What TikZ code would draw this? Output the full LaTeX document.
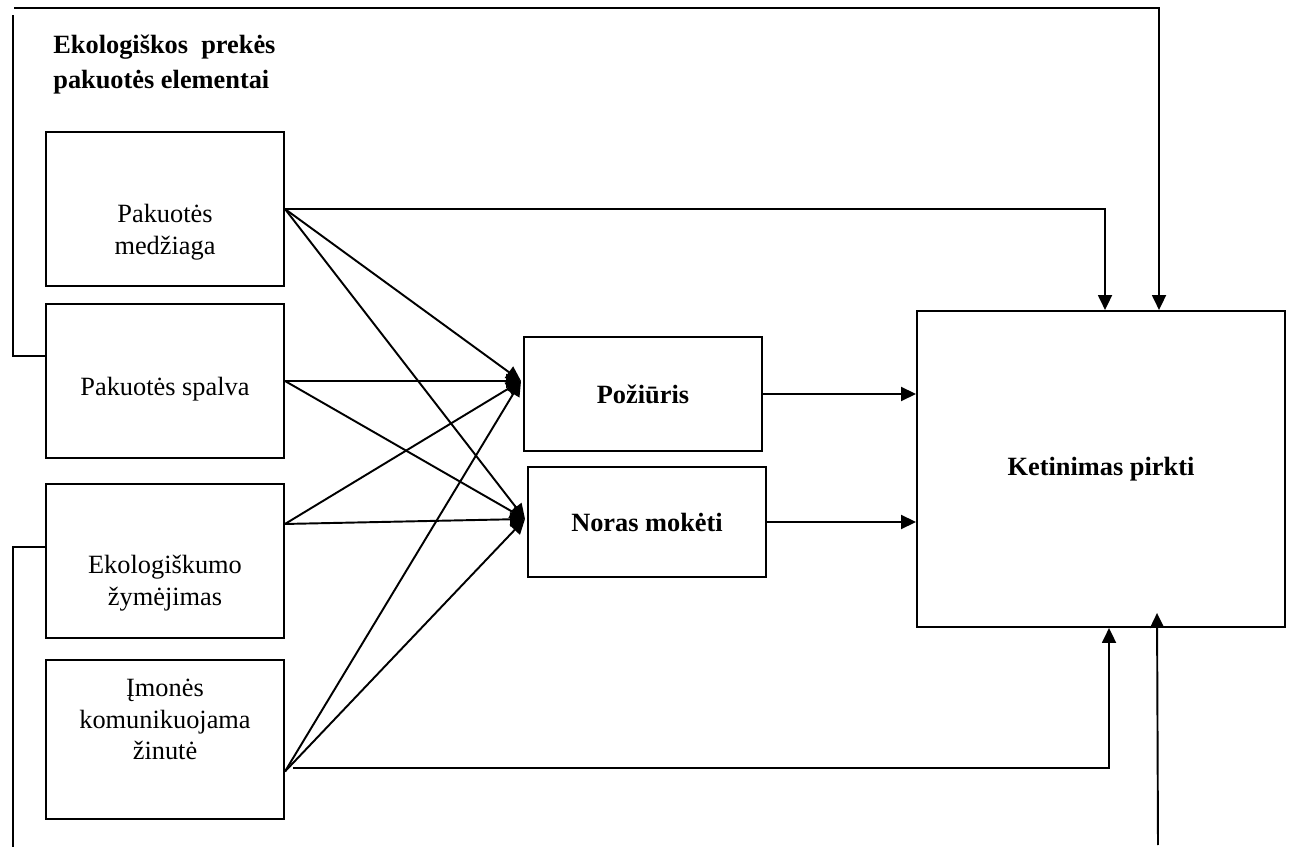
\documentclass[tikz,border=0pt]{standalone}
\usepackage{fontspec}
\setmainfont{Liberation Serif}
\usetikzlibrary{arrows.meta,positioning,calc}
\tikzset{
  blk/.style={draw=black, line width=1.15pt, minimum width=4.76cm, inner sep=0pt},
  elbox/.style={blk, minimum height=3.08cm},
  midbox/.style={blk, font=\fontsize{15}{18}\selectfont\bfseries},
  goalbox/.style={blk, minimum width=7.36cm, minimum height=6.32cm,
    font=\fontsize{15}{18}\selectfont\bfseries},
  txt/.style={align=center, inner sep=0pt, font=\fontsize{15}{17.9}\selectfont},
  hdr/.style={align=left, inner sep=0pt, anchor=north west,
    font=\fontsize{15}{19.8}\selectfont\bfseries},
  arr/.style={-{Triangle[length=3mm,width=2.8mm]}, draw=black, line width=1.1pt},
  wire/.style={draw=black, line width=1.1pt}
}
\begin{document}
\begin{tikzpicture}[x=0.02cm, y=-0.02cm, node distance=0.32cm]
  \useasboundingbox (0,0) rectangle (1292,847);
  \node[hdr] (head) at (53,35) {Ekologiškos\ \ prekės\\pakuotės elementai};
  % packaging elements
  \node[elbox] (medz) at (165,209) {};
  \node[elbox, below=of medz] (spal) {};
  \node[elbox, below=0.48cm of spal] (ekol) {};
  \node[elbox, below=0.4cm of ekol, minimum height=3.18cm] (imon) {};
  \node[txt] (medzt) at ($(medz)+(0,23)$) {Pakuotės\\medžiaga};
  \node[txt] (spalt) at ($(spal)+(0,8)$) {Pakuotės spalva};
  \node[txt] (ekolt) at ($(ekol)+(0,22)$) {Ekologiškumo\\žymėjimas};
  \node[txt] (imont) at ($(imon)+(0,-20)$) {Įmonės\\komunikuojama\\žinutė};
  % mediators and outcome
  \node[midbox, minimum height=2.28cm] (poz) at (643,394) {Požiūris};
  \node[midbox, minimum height=2.2cm] (nor) at (647,522) {Noras mokėti};
  \node[goalbox] (ket) at (1101,469) {Ketinimas pirkti};
  \coordinate (tP) at ($(poz.west)+(-2,-13)$);
  \coordinate (tN) at ($(nor.west)+(-2,-3)$);
  \coordinate (s3) at ($(ekol.east)+(0,-37)$);
  \coordinate (s4) at ($(imon.east)+(0,32)$);
  \coordinate (fbA) at (13,15);
  \coordinate (fbB) at (14,8);
  \coordinate (fbC) at (1158,845);
  \coordinate (fbD) at (13,847);
  \draw[arr] (medz.east) -- (tP);
  \draw[arr] (medz.east) -- (tN);
  \draw[arr] (spal.east) -- (tP);
  \draw[arr] (spal.east) -- (tN);
  \draw[arr] (s3) -- (tP);
  \draw[arr] (s3) -- (tN);
  \draw[arr] (s4) -- (tP);
  \draw[arr] (s4) -- (tN);
  \draw[arr] (poz.east) -- (poz.east -| ket.west);
  \draw[arr] (nor.east) -- (nor.east -| ket.west);
  % direct paths
  \draw[arr] (medz.east) -| ($(ket.north west)+(189,0)$);
  \draw[arr] ($(imon.east)+(8,29)$) -| ($(ket.south west)+(193,0)$);
  \draw[wire] ($(spal.north west)+(0,53)$) -| (fbA);
  \draw[arr] (fbB) -| ($(ket.north west)+(243,0)$);
  \draw[wire] ($(ekol.north west)+(0,64)$) -| (fbD);
  \draw[arr] (fbC) -- ($(ket.south west)+(241,-15)$);
\end{tikzpicture}
\end{document}
